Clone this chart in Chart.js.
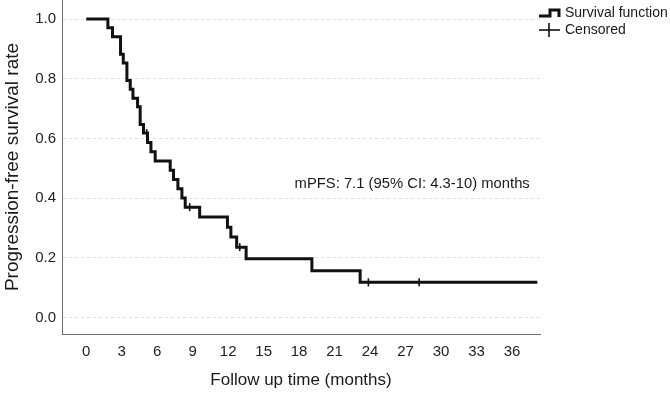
<!DOCTYPE html>
<html lang="en">
<head>
    <meta charset="UTF-8">
    <title>Progression-free survival</title>
    <script src="https://cdn.jsdelivr.net/npm/chart.js"></script>
    <style>
        body { margin: 0; background: #fff; font-family: "Liberation Sans", Arial, sans-serif; }
        #box { position: relative; width: 670px; height: 398px; }
        .legenda { position: absolute; left: 537px; font-size: 14px; color: #1a1a1a; line-height: 16px; }
        .legenda svg { vertical-align: middle; margin-right: 4px; }
    </style>
</head>
<body>

    <div id="box">
        <canvas id="kmChart"></canvas>
        <div class="legenda" style="top: 4px;">
            <svg width="24" height="12"><polyline points="2,9 13,9 13,3 22,3 22,10" fill="none" stroke="#111" stroke-width="3"/></svg>Survival function
        </div>
        <div class="legenda" style="top: 21px;">
            <svg width="24" height="16"><line x1="2" y1="8" x2="23" y2="8" stroke="#111" stroke-width="1.6"/><line x1="12" y1="1" x2="12" y2="15" stroke="#111" stroke-width="1.6"/></svg>Censored
        </div>
    </div>

<script>
    // curva de Kaplan-Meier (tempo do evento em meses, sobrevida depois do evento)
    var tempos = [0, 1.83, 2.22, 2.90, 3.13, 3.44, 3.72, 3.95, 4.34, 4.56, 4.84, 5.18, 5.47, 5.83,
                  7.10, 7.38, 7.75, 8.09, 8.37, 9.59, 11.94, 12.23, 12.72, 13.52, 19.08, 23.16, 38.15];
    var sobrevida = [1.0, 0.971, 0.941, 0.882, 0.853, 0.794, 0.765, 0.735, 0.706, 0.647, 0.618, 0.587, 0.556, 0.525,
                     0.494, 0.463, 0.432, 0.401, 0.370, 0.337, 0.303, 0.270, 0.236, 0.197, 0.157, 0.118, 0.118];

    // pacientes censurados
    var temposCensura = [5.11, 8.75, 12.98, 23.86, 28.15];
    var sobrevidaCensura = [0.618, 0.370, 0.236, 0.118, 0.118];

    // ticks dos eixos
    var ticksX = [0, 3, 6, 9, 12, 15, 18, 21, 24, 27, 30, 33, 36];
    var ticksY = [0, 0.2, 0.4, 0.6, 0.8, 1.0];

    var textoMediana = 'mPFS: 7.1 (95% CI: 4.3-10) months';

    var pontosCurva = [];
    for (var i = 0; i < tempos.length; i++) {
        pontosCurva.push({ x: tempos[i], y: sobrevida[i] });
    }
    var pontosCensura = [];
    for (var j = 0; j < temposCensura.length; j++) {
        pontosCensura.push({ x: temposCensura[j], y: sobrevidaCensura[j] });
    }

    var fonte = "'Liberation Sans', Arial, sans-serif";

    // escreve o texto da mediana dentro do grafico
    const anotacao = {
        id: 'anotacao',
        afterDatasetsDraw(chart) {
            const ctx = chart.ctx;
            ctx.save();
            ctx.font = '14.8px ' + fonte;
            ctx.fillStyle = '#1a1a1a';
            ctx.textAlign = 'center';
            ctx.textBaseline = 'middle';
            ctx.fillText(textoMediana, chart.scales.x.getPixelForValue(27.56), chart.scales.y.getPixelForValue(0.447));
            ctx.restore();
        }
    };

    const config = {
        type: 'scatter',
        data: {
            datasets: [{
                label: 'Survival function',
                data: pontosCurva,
                showLine: true,
                stepped: 'before',
                borderColor: '#111111',
                borderWidth: 3,
                pointRadius: 0,
                fill: false
            },
            {
                label: 'Censored',
                data: pontosCensura,
                showLine: false,
                pointStyle: 'line',
                rotation: 90,
                pointRadius: 4,
                borderColor: '#111111',
                borderWidth: 1.6
            }]
        },
        options: {
            responsive: true,
            maintainAspectRatio: false,
            animation: false,
            layout: { autoPadding: false, padding: { left: 0, right: 130, top: 0, bottom: 0 } },
            plugins: {
                legend: { display: false },
                tooltip: { enabled: false }
            },
            scales: {
                x: {
                    type: 'linear',
                    min: -2.05,
                    max: 38.37,
                    afterBuildTicks: function (scale) {
                        scale.ticks = ticksX.map(function (v) { return { value: v }; });
                    },
                    afterFit: function (scale) {
                        scale.height = 64;
                        scale.paddingLeft = 0;
                        scale.paddingRight = 0;
                    },
                    grid: { display: false, drawTicks: false },
                    border: { display: true, color: '#6e6e6e', width: 1 },
                    ticks: {
                        autoSkip: false,
                        maxRotation: 0,
                        padding: 9,
                        color: '#222',
                        font: { size: 15, family: fonte }
                    },
                    title: {
                        display: true,
                        text: 'Follow up time (months)',
                        color: '#1a1a1a',
                        font: { size: 17, family: fonte },
                        padding: { top: 0, bottom: 7 }
                    }
                },
                y: {
                    min: -0.055,
                    max: 1.064,
                    afterBuildTicks: function (scale) {
                        scale.ticks = ticksY.map(function (v) { return { value: v }; });
                    },
                    afterFit: function (scale) {
                        scale.width = 62;
                        scale.paddingTop = 0;
                        scale.paddingBottom = 0;
                    },
                    grid: {
                        display: true,
                        drawTicks: false,
                        color: 'rgba(205, 198, 140, 0.5)',
                        lineWidth: 1
                    },
                    border: { display: true, color: '#6e6e6e', width: 1, dash: [3, 3] },
                    ticks: {
                        padding: 6,
                        color: '#222',
                        font: { size: 15, family: fonte },
                        callback: function (v) { return Number(v).toFixed(1); }
                    },
                    title: {
                        display: true,
                        text: 'Progression-free survival rate',
                        color: '#1a1a1a',
                        font: { size: 19, family: fonte },
                        padding: { top: 1, bottom: 0 }
                    }
                }
            }
        },
        plugins: [anotacao]
    };

    const kmChart = new Chart(document.getElementById('kmChart'), config);
</script>
</body>
</html>
